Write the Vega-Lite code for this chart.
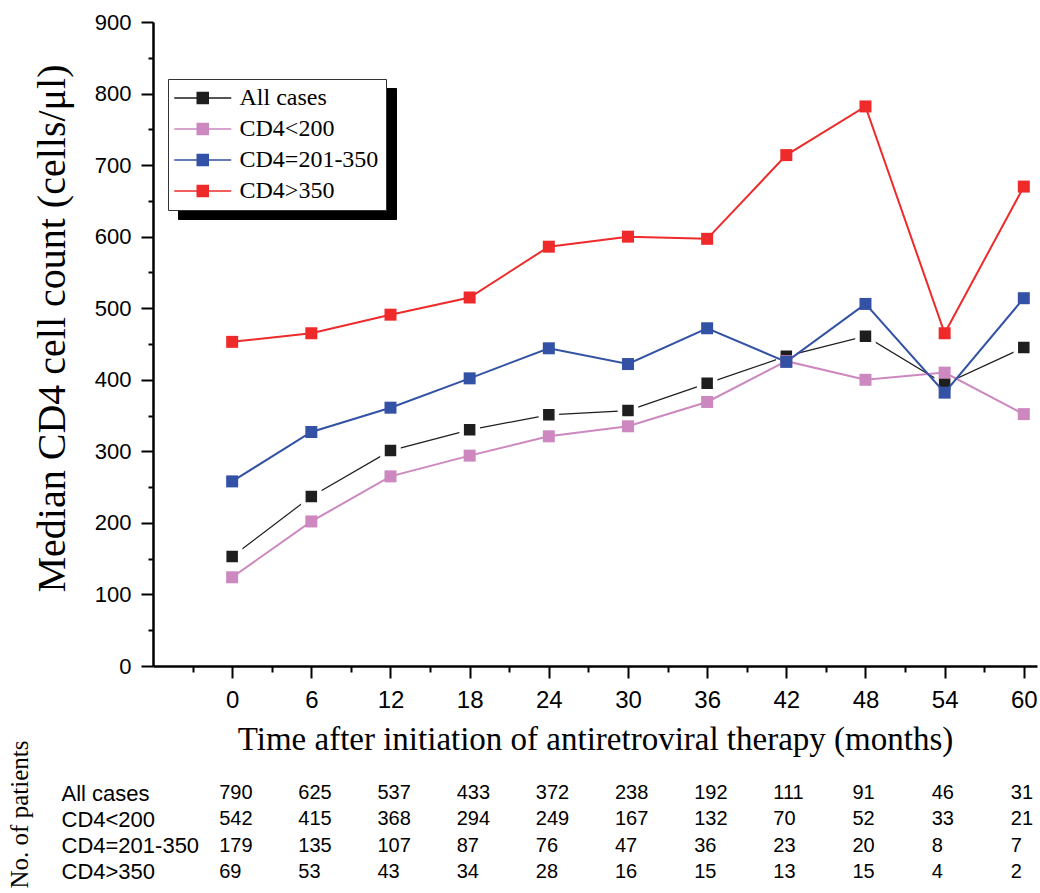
{
  "$schema": "https://vega.github.io/schema/vega-lite/v6.json",
  "padding": {"left": 7, "top": 11, "right": 0, "bottom": 0},
  "background": "white",
  "bounds": "flush",
  "spacing": 114,
  "config": {"view": {"stroke": null}, "font": "Liberation Sans"},
  "datasets": {
    "medians": [
      {"series": "All cases", "month": 0, "cd4": 153},
      {"series": "All cases", "month": 6, "cd4": 237},
      {"series": "All cases", "month": 12, "cd4": 301},
      {"series": "All cases", "month": 18, "cd4": 330},
      {"series": "All cases", "month": 24, "cd4": 351},
      {"series": "All cases", "month": 30, "cd4": 357},
      {"series": "All cases", "month": 36, "cd4": 395},
      {"series": "All cases", "month": 42, "cd4": 433},
      {"series": "All cases", "month": 48, "cd4": 461},
      {"series": "All cases", "month": 54, "cd4": 394},
      {"series": "All cases", "month": 60, "cd4": 445},
      {"series": "CD4<200", "month": 0, "cd4": 124},
      {"series": "CD4<200", "month": 6, "cd4": 202},
      {"series": "CD4<200", "month": 12, "cd4": 265},
      {"series": "CD4<200", "month": 18, "cd4": 294},
      {"series": "CD4<200", "month": 24, "cd4": 321},
      {"series": "CD4<200", "month": 30, "cd4": 335},
      {"series": "CD4<200", "month": 36, "cd4": 369},
      {"series": "CD4<200", "month": 42, "cd4": 426},
      {"series": "CD4<200", "month": 48, "cd4": 400},
      {"series": "CD4<200", "month": 54, "cd4": 410},
      {"series": "CD4<200", "month": 60, "cd4": 352},
      {"series": "CD4=201-350", "month": 0, "cd4": 258},
      {"series": "CD4=201-350", "month": 6, "cd4": 327},
      {"series": "CD4=201-350", "month": 12, "cd4": 361},
      {"series": "CD4=201-350", "month": 18, "cd4": 402},
      {"series": "CD4=201-350", "month": 24, "cd4": 444},
      {"series": "CD4=201-350", "month": 30, "cd4": 422},
      {"series": "CD4=201-350", "month": 36, "cd4": 472},
      {"series": "CD4=201-350", "month": 42, "cd4": 425},
      {"series": "CD4=201-350", "month": 48, "cd4": 506},
      {"series": "CD4=201-350", "month": 54, "cd4": 382},
      {"series": "CD4=201-350", "month": 60, "cd4": 514},
      {"series": "CD4>350", "month": 0, "cd4": 453},
      {"series": "CD4>350", "month": 6, "cd4": 465},
      {"series": "CD4>350", "month": 12, "cd4": 491},
      {"series": "CD4>350", "month": 18, "cd4": 515},
      {"series": "CD4>350", "month": 24, "cd4": 586},
      {"series": "CD4>350", "month": 30, "cd4": 600},
      {"series": "CD4>350", "month": 36, "cd4": 597},
      {"series": "CD4>350", "month": 42, "cd4": 714},
      {"series": "CD4>350", "month": 48, "cd4": 782},
      {"series": "CD4>350", "month": 54, "cd4": 465},
      {"series": "CD4>350", "month": 60, "cd4": 670}
    ],
    "counts": [
      {"group": "All cases", "month": 0, "n": 790},
      {"group": "All cases", "month": 6, "n": 625},
      {"group": "All cases", "month": 12, "n": 537},
      {"group": "All cases", "month": 18, "n": 433},
      {"group": "All cases", "month": 24, "n": 372},
      {"group": "All cases", "month": 30, "n": 238},
      {"group": "All cases", "month": 36, "n": 192},
      {"group": "All cases", "month": 42, "n": 111},
      {"group": "All cases", "month": 48, "n": 91},
      {"group": "All cases", "month": 54, "n": 46},
      {"group": "All cases", "month": 60, "n": 31},
      {"group": "CD4<200", "month": 0, "n": 542},
      {"group": "CD4<200", "month": 6, "n": 415},
      {"group": "CD4<200", "month": 12, "n": 368},
      {"group": "CD4<200", "month": 18, "n": 294},
      {"group": "CD4<200", "month": 24, "n": 249},
      {"group": "CD4<200", "month": 30, "n": 167},
      {"group": "CD4<200", "month": 36, "n": 132},
      {"group": "CD4<200", "month": 42, "n": 70},
      {"group": "CD4<200", "month": 48, "n": 52},
      {"group": "CD4<200", "month": 54, "n": 33},
      {"group": "CD4<200", "month": 60, "n": 21},
      {"group": "CD4=201-350", "month": 0, "n": 179},
      {"group": "CD4=201-350", "month": 6, "n": 135},
      {"group": "CD4=201-350", "month": 12, "n": 107},
      {"group": "CD4=201-350", "month": 18, "n": 87},
      {"group": "CD4=201-350", "month": 24, "n": 76},
      {"group": "CD4=201-350", "month": 30, "n": 47},
      {"group": "CD4=201-350", "month": 36, "n": 36},
      {"group": "CD4=201-350", "month": 42, "n": 23},
      {"group": "CD4=201-350", "month": 48, "n": 20},
      {"group": "CD4=201-350", "month": 54, "n": 8},
      {"group": "CD4=201-350", "month": 60, "n": 7},
      {"group": "CD4>350", "month": 0, "n": 69},
      {"group": "CD4>350", "month": 6, "n": 53},
      {"group": "CD4>350", "month": 12, "n": 43},
      {"group": "CD4>350", "month": 18, "n": 34},
      {"group": "CD4>350", "month": 24, "n": 28},
      {"group": "CD4>350", "month": 30, "n": 16},
      {"group": "CD4>350", "month": 36, "n": 15},
      {"group": "CD4>350", "month": 42, "n": 13},
      {"group": "CD4>350", "month": 48, "n": 15},
      {"group": "CD4>350", "month": 54, "n": 4},
      {"group": "CD4>350", "month": 60, "n": 2}
    ]
  },
  "vconcat": [
    {
      "width": 884,
      "height": 644,
      "data": {"name": "medians"},
      "encoding": {
        "x": {
          "field": "month", "type": "quantitative",
          "scale": {"domain": [-6, 61], "nice": false, "zero": false},
          "title": "Time after initiation of antiretroviral therapy (months)",
          "axis": {
            "values": [-3, 0, 3, 6, 9, 12, 15, 18, 21, 24, 27, 30, 33, 36, 39, 42, 45, 48, 51, 54, 57, 60],
            "labelExpr": "datum.value % 6 === 0 && datum.value >= 0 ? datum.label : ''",
            "tickSize": {"condition": {"test": "datum.value % 6 !== 0", "value": 6}, "value": 12},
            "tickWidth": 2, "tickColor": "black",
            "domainColor": "black", "domainWidth": 2.5,
            "labelFont": "Liberation Sans", "labelFontSize": 24, "labelColor": "black",
            "labelPadding": 10, "labelFlush": false, "labelOverlap": false,
            "grid": false,
            "titleFont": "Liberation Serif", "titleFontSize": 33, "titleFontWeight": "normal",
            "titleColor": "black", "titlePadding": 11
          }
        },
        "y": {
          "field": "cd4", "type": "quantitative",
          "scale": {"domain": [0, 900], "nice": false},
          "title": "Median CD4 cell count (cells/μl)",
          "axis": {
            "values": [0, 50, 100, 150, 200, 250, 300, 350, 400, 450, 500, 550, 600, 650, 700, 750, 800, 850, 900],
            "labelExpr": "datum.value % 100 === 0 ? datum.label : ''",
            "tickSize": {"condition": {"test": "datum.value % 100 !== 0", "value": 5}, "value": 12},
            "tickWidth": 2, "tickColor": "black",
            "domainColor": "black", "domainWidth": 2.5,
            "labelFont": "Liberation Sans", "labelFontSize": 22, "labelColor": "black",
            "labelPadding": 10, "labelFlush": false, "labelOverlap": false,
            "grid": false,
            "titleFont": "Liberation Serif", "titleFontSize": 40, "titleFontWeight": "normal",
            "titleColor": "black", "titlePadding": 22, "titleY": 306
          }
        },
        "color": {
          "field": "series", "type": "nominal",
          "scale": {"range": ["#1e1e1e", "#cc88bf", "#3352a5", "#ee2a2a"]},
          "legend": {
            "title": null, "orient": "none", "legendX": 15, "legendY": 57, "zindex": 2,
            "padding": 7, "strokeColor": "#333333", "fillColor": "white",
            "symbolType": "M-2.55,0H8.85M2.05,-1.1H4.25V1.1H2.05Z",
            "symbolSize": 100, "symbolStrokeWidth": 1.5,
            "labelOffset": 40.5, "rowPadding": 7,
            "labelFont": "Liberation Serif", "labelFontSize": 24, "labelColor": "black", "labelLimit": 300,
            "encode": {"symbols": {"update": {
              "fill": {"scale": "color", "field": "value"},
              "stroke": {"scale": "color", "field": "value"},
              "strokeWidth": {"value": 1.5},
              "opacity": {"value": 1}
            }}}
          }
        }
      },
      "layer": [
        {
          "transform": [{"filter": "datum.series === 'All cases'"}],
          "mark": {"type": "line", "strokeWidth": 1.2}
        },
        {
          "transform": [{"filter": "datum.series === 'All cases'"}],
          "mark": {"type": "point", "shape": "square", "filled": true, "size": 256, "stroke": "white", "strokeWidth": 4.5, "opacity": 1}
        },
        {
          "transform": [{"filter": "datum.series !== 'All cases'"}],
          "mark": {"type": "line", "strokeWidth": 2}
        },
        {
          "transform": [{"filter": "datum.series !== 'All cases'"}],
          "mark": {"type": "point", "shape": "square", "filled": true, "size": 144},
          "encoding": {
            "opacity": {
              "field": "series", "type": "nominal",
              "scale": {"type": "ordinal", "domain": ["All cases", "CD4<200", "CD4=201-350", "CD4>350"], "range": [1, 1, 1, 1]},
              "legend": {
                "title": null, "orient": "none", "legendX": 25, "legendY": 66, "zindex": 1,
                "padding": 7, "strokeColor": "black", "fillColor": "black",
                "symbolType": "M-2.55,0H8.85M2.05,-1.1H4.25V1.1H2.05Z",
                "symbolSize": 100, "symbolStrokeWidth": 1.5,
                "symbolFillColor": "black", "symbolStrokeColor": "black",
                "labelOffset": 40.5, "rowPadding": 7,
                "labelFont": "Liberation Serif", "labelFontSize": 24, "labelColor": "black", "labelLimit": 300
              }
            }
          }
        }
      ]
    },
    {
      "width": 884,
      "height": 105,
      "data": {"name": "counts"},
      "mark": {"type": "text", "align": "left", "baseline": "middle", "dx": -13, "font": "Liberation Sans", "fontSize": 20, "color": "black"},
      "encoding": {
        "x": {
          "field": "month", "type": "quantitative",
          "scale": {"domain": [-6, 61], "nice": false, "zero": false},
          "axis": null
        },
        "y": {
          "field": "group", "type": "nominal",
          "sort": ["All cases", "CD4<200", "CD4=201-350", "CD4>350"],
          "title": "No. of patients",
          "axis": {
            "domain": false, "ticks": false, "tickSize": 0,
            "labelAlign": "left", "labelPadding": 92,
            "labelFont": "Liberation Sans", "labelFontSize": 22, "labelColor": "black",
            "labelLimit": 300,
            "titleFont": "Liberation Serif", "titleFontSize": 25, "titleFontWeight": "normal",
            "titleColor": "black", "titlePadding": 29, "titleY": 34
          }
        },
        "text": {"field": "n", "type": "quantitative"}
      }
    }
  ],
  "resolve": {
    "scale": {"x": "independent", "y": "independent"},
    "legend": {"color": "independent", "opacity": "independent"}
  }
}
